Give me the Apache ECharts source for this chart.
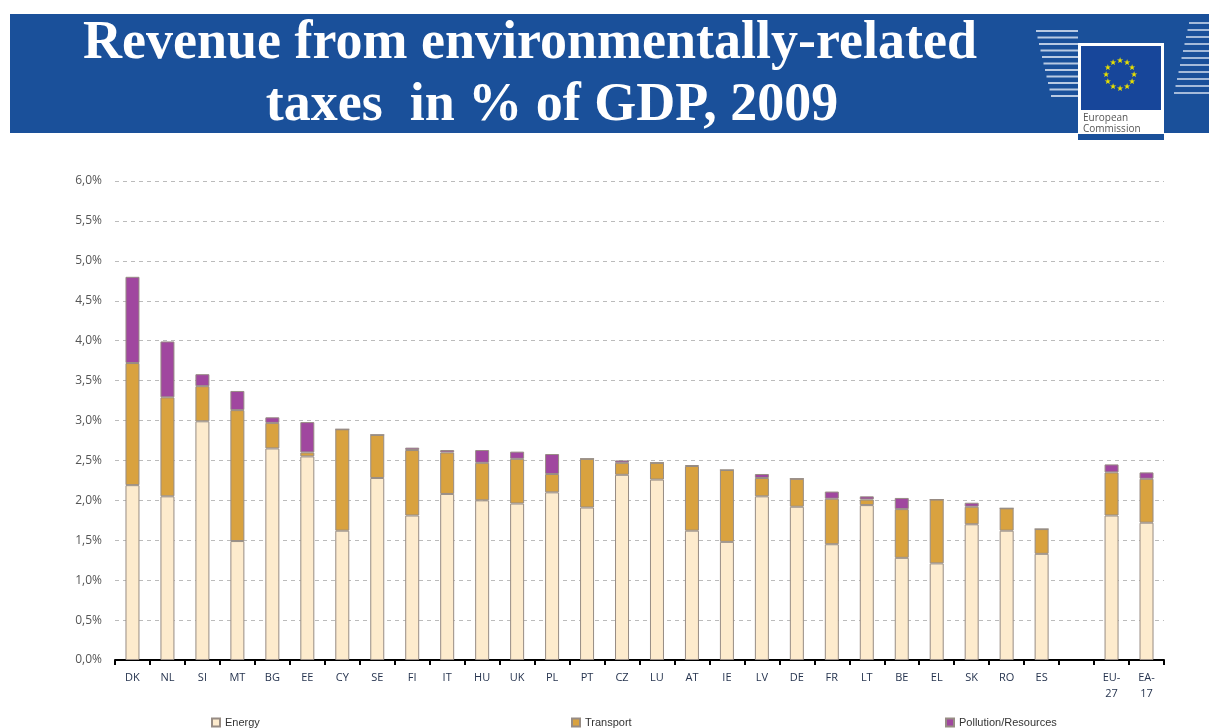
<!DOCTYPE html>
<html>
<head>
<meta charset="utf-8">
<script src="https://cdn.jsdelivr.net/npm/echarts@6/dist/echarts.min.js"></script>
<style>
html,body{margin:0;padding:0;background:#fff;}
#main{width:1209px;height:728px;}
</style>
</head>
<body>
<div id="main"></div>
<script>
var categories = ['DK','NL','SI','MT','BG','EE','CY','SE','FI','IT','HU','UK','PL','PT','CZ','LU','AT','IE','LV','DE','FR','LT','BE','EL','SK','RO','ES','','EU-\n27','EA-\n17'];
var energy    = [2.19,2.05,2.99,1.49,2.65,2.55,1.62,2.28,1.81,2.08,2.00,1.96,2.10,1.91,2.32,2.26,1.62,1.48,2.05,1.92,1.45,1.94,1.28,1.21,1.70,1.62,1.33,'-',1.81,1.72];
var transport = [1.53,1.24,0.44,1.64,0.32,0.05,1.27,0.54,0.82,0.52,0.47,0.56,0.23,0.61,0.15,0.21,0.81,0.90,0.23,0.35,0.57,0.07,0.61,0.80,0.22,0.28,0.31,'-',0.54,0.55];
var pollution = [1.08,0.70,0.15,0.24,0.07,0.38,0,0,0.03,0.03,0.16,0.09,0.25,0,0.03,0,0.01,0,0.05,0,0.09,0.04,0.14,0,0.05,0,0,'-',0.10,0.08];
var yTicks = [0,0.5,1,1.5,2,2.5,3,3.5,4,4.5,5,5.5,6];

var chart = echarts.init(document.getElementById('main'));

var stars = [];
for (var i = 0; i < 12; i++) {
  var a = i * Math.PI / 6;
  stars.push({
    type: 'text',
    style: {
      text: '\u2605', fill: '#e8e000', font: '8px DejaVu Sans',
      x: 1120 + 14 * Math.sin(a), y: 75 - 14 * Math.cos(a),
      align: 'center', verticalAlign: 'middle'
    }
  });
}
var stripes = [];
for (var j = 0; j < 11; j++) {
  stripes.push({ type: 'rect', shape: { x: 1036 + j * 1.5, y: 30 + j * 6.5, width: 42 - j * 1.5, height: 2 }, style: { fill: 'rgba(225,232,245,0.8)' } });
  stripes.push({ type: 'rect', shape: { x: 1174 + (10 - j) * 1.5, y: 22 + j * 7, width: 35, height: 2 }, style: { fill: 'rgba(225,232,245,0.7)' } });
}

var barBorder = { borderColor: '#978c84', borderWidth: 1 };
var legendText = { fontSize: 11, color: '#333', fontFamily: 'Liberation Sans' };

chart.setOption({
  animation: false,
  backgroundColor: '#ffffff',
  graphic: [
    { type: 'rect', shape: { x: 10, y: 14, width: 1199, height: 119 }, style: { fill: '#1a509a' } }
  ].concat(stripes).concat([
    { type: 'rect', shape: { x: 1078, y: 43, width: 86, height: 95 }, style: { fill: '#ffffff' } },
    { type: 'rect', shape: { x: 1081, y: 46, width: 80, height: 64 }, style: { fill: '#17469a' } },
    { type: 'rect', shape: { x: 1078, y: 134, width: 86, height: 6 }, style: { fill: '#1a509a' } },
    { type: 'text', style: { text: 'European', x: 1083, y: 118, font: '10px "Open Sans"', fill: '#555', verticalAlign: 'middle' } },
    { type: 'text', style: { text: 'Commission', x: 1083, y: 129, font: '10px "Open Sans"', fill: '#555', verticalAlign: 'middle' } },
    { type: 'text',
      style: { text: 'Revenue from environmentally-related', x: 530, y: 44, align: 'center', verticalAlign: 'middle', font: 'bold 54px "Liberation Serif"', fill: '#ffffff' } },
    { type: 'text',
      style: { text: 'taxes  in % of GDP, 2009', x: 552, y: 106, align: 'center', verticalAlign: 'middle', font: 'bold 54px "Liberation Serif"', fill: '#ffffff' } }
  ]).concat(stars),
  legend: [
    { data: ['Energy'], left: 206, top: 712, icon: 'rect', itemWidth: 8, itemHeight: 8, itemGap: 4, textStyle: legendText },
    { data: ['Transport'], left: 566, top: 712, icon: 'rect', itemWidth: 8, itemHeight: 8, textStyle: legendText },
    { data: ['Pollution/Resources'], left: 940, top: 712, icon: 'rect', itemWidth: 8, itemHeight: 8, textStyle: legendText }
  ],
  grid: { left: 115, right: 45, top: 181, bottom: 68, containLabel: false },
  xAxis: {
    type: 'category',
    data: categories,
    axisLine: { lineStyle: { color: '#000', width: 2 } },
    axisTick: { show: true, length: 5, lineStyle: { color: '#000', width: 2 } },
    axisLabel: { color: '#26344f', fontSize: 11, fontFamily: 'Open Sans', margin: 10, lineHeight: 16, interval: 0 }
  },
  yAxis: {
    type: 'value', min: 0, max: 6, interval: 0.5,
    axisLine: { show: false }, axisTick: { show: false },
    axisLabel: {
      color: '#555', fontSize: 12, fontFamily: 'Open Sans', margin: 13,
      formatter: function (v) { return yTicks.indexOf(v) >= 0 ? v.toFixed(1).replace('.', ',') + '%' : ''; }
    },
    splitLine: { lineStyle: { color: '#bbbbbb', type: [4, 4], width: 1 } }
  },
  series: [
    { name: 'Energy', type: 'bar', stack: 't', data: energy, barWidth: 14, itemStyle: Object.assign({ color: '#fdebcd' }, barBorder) },
    { name: 'Transport', type: 'bar', stack: 't', data: transport, barWidth: 14, itemStyle: Object.assign({ color: '#d9a23f' }, barBorder) },
    { name: 'Pollution/Resources', type: 'bar', stack: 't', data: pollution, barWidth: 14, itemStyle: Object.assign({ color: '#a0479f' }, barBorder) }
  ]
});
</script>
</body>
</html>
